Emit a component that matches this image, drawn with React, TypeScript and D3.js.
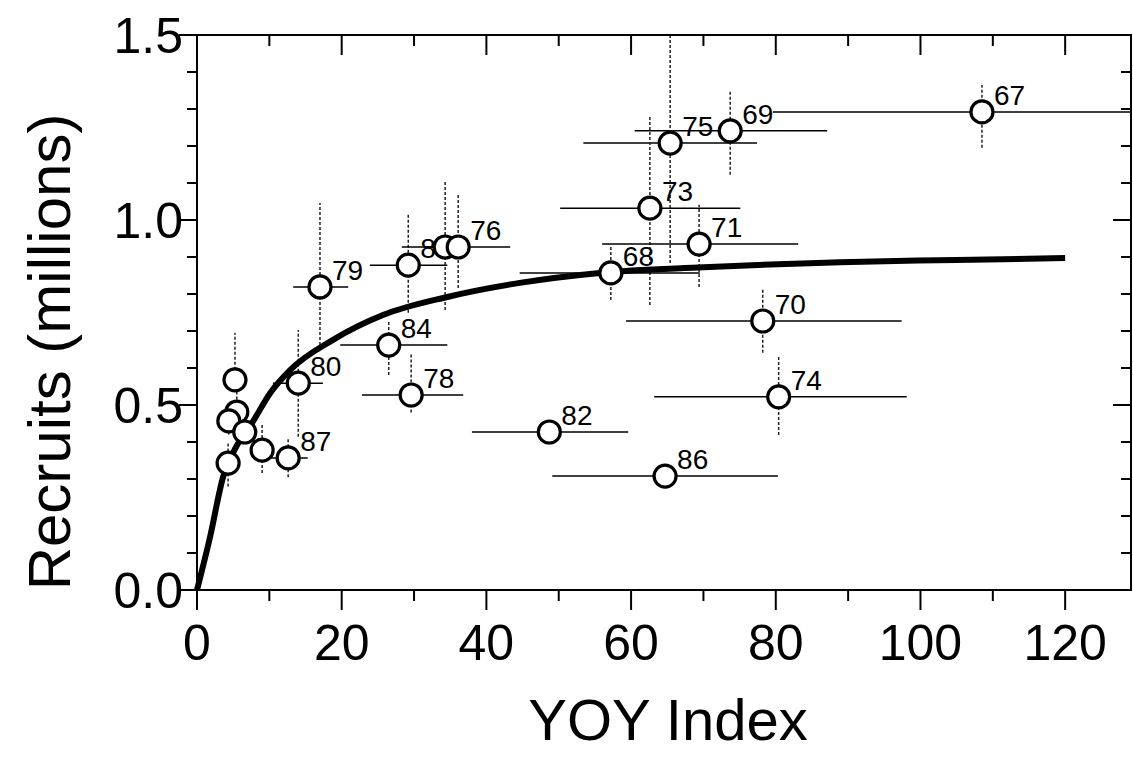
import React from "react";
import * as d3 from "d3";

// year-class labels and values
const labels = ["67", "69", "75", "73", "71", "68", "70", "74", "86", "82", "79", "83", "", "76", "84", "78", "80", "87", "", "", "", "", "", ""];
const yoy = [108.5, 73.7, 65.4, 62.6, 69.4, 57.2, 78.2, 80.4, 64.7, 48.7, 17.0, 29.2, 34.3, 36.1, 26.5, 29.6, 14.0, 12.6, 9.0, 4.3, 5.25, 5.5, 4.4, 6.6];
const recruits = [1.292, 1.241, 1.208, 1.032, 0.935, 0.857, 0.727, 0.522, 0.308, 0.427, 0.819, 0.878, 0.927, 0.927, 0.662, 0.527, 0.559, 0.357, 0.378, 0.343, 0.568, 0.481, 0.457, 0.427];
const yoyLo = [79.6, 60.5, 53.4, 50.2, 56.0, 44.6, 59.3, 63.2, 49.1, 38.0, 13.3, 23.9, 31.5, 28.3, 19.8, 22.8, 10.5, 9.9, 7.5, 3.5, 4.8, 5.0, 3.9, 6.0];
const yoyHi = [131, 87.1, 77.4, 75.1, 83.1, 69.5, 97.4, 98.1, 80.3, 59.6, 20.9, 34.6, 37.0, 43.3, 34.6, 36.8, 17.4, 15.3, 10.5, 5.2, 5.7, 6.0, 4.9, 7.2];
const recLo = [1.195, 1.122, 0.884, 0.77, 0.819, 0.784, 0.641, 0.419, 0.29, 0.41, 0.662, 0.749, 0.757, 0.816, 0.581, 0.48, 0.414, 0.305, 0.316, 0.28, 0.541, 0.42, 0.42, 0.4];
const recHi = [1.365, 1.351, 1.55, 1.284, 1.041, 0.927, 0.816, 0.63, 0.33, 0.44, 1.046, 1.014, 1.103, 1.068, 0.73, 0.64, 0.703, 0.41, 0.451, 0.4, 0.695, 0.56, 0.5, 0.46];

// fitted stock-recruit curve
const curveX = [0, 1.8, 3.6, 5.5, 7.6, 10.1, 12.9, 18.8, 25.7, 34.6, 44.6, 55.7, 70, 88.9, 105, 120];
const curveY = [0, 0.143, 0.305, 0.39, 0.451, 0.532, 0.595, 0.676, 0.743, 0.792, 0.83, 0.857, 0.872, 0.886, 0.892, 0.897];

const xTickLabels = [0, 20, 40, 60, 80, 100, 120];
const yTickLabels = [0, 0.5, 1.0, 1.5];

const W = 1133, H = 773;
const left = 197, right = 1131, top = 35, bottom = 590;

export default function App() {
  const x = d3.scaleLinear().domain([0, 129.1]).range([left, right]);
  const y = d3.scaleLinear().domain([0, 1.5]).range([bottom, top]);

  const xMinor = d3.range(0, 130, 10);
  const yMinor = d3.range(0, 1.501, 0.1);

  const line = d3
    .line<number>()
    .x((d) => x(curveX[d]))
    .y((d) => y(curveY[d]))
    .curve(d3.curveMonotoneX);

  const idx = d3.range(labels.length);
  const font = "Arial, 'Liberation Sans', sans-serif";

  return (
    <svg width={W} height={H} style={{ position: "absolute", left: 0, top: 0, background: "#fff" }}>
      <defs>
        <clipPath id="plot">
          <rect x={left} y={top} width={right - left} height={bottom - top} />
        </clipPath>
      </defs>

      {/* error bars */}
      <g clipPath="url(#plot)">
        {idx.map((i) => (
          <g key={"e" + i}>
            <line x1={x(yoyLo[i])} x2={x(yoyHi[i])} y1={y(recruits[i])} y2={y(recruits[i])} stroke="#000" strokeWidth={1.5} />
            <line x1={x(yoy[i])} x2={x(yoy[i])} y1={y(recLo[i])} y2={y(recHi[i])} stroke="#222" strokeWidth={1.5} strokeDasharray="3,2" />
          </g>
        ))}
      </g>

      {/* fitted curve */}
      <path d={line(d3.range(curveX.length)) || ""} fill="none" stroke="#000" strokeWidth={6} />

      {/* point labels */}
      {idx.map((i) => (
        <text key={"l" + i} x={x(yoy[i]) + 12} y={y(recruits[i]) - 7} fontSize={28} fontFamily={font} fill="#000">
          {labels[i]}
        </text>
      ))}

      {/* points */}
      {idx.map((i) => (
        <circle key={"p" + i} cx={x(yoy[i])} cy={y(recruits[i])} r={11} fill="#fff" stroke="#000" strokeWidth={3.2} />
      ))}

      {/* frame */}
      <rect x={left} y={top} width={right - left} height={bottom - top} fill="none" stroke="#000" strokeWidth={2} />

      {/* x ticks: bottom outward, top inward */}
      {xMinor.map((v) => {
        const major = v % 20 === 0;
        const len = major ? 20 : 11;
        return (
          <g key={"xt" + v}>
            <line x1={x(v)} x2={x(v)} y1={bottom} y2={bottom + len} stroke="#000" strokeWidth={2} />
            <line x1={x(v)} x2={x(v)} y1={top} y2={top + len} stroke="#000" strokeWidth={2} />
          </g>
        );
      })}

      {/* y ticks: left outward, right inward */}
      {yMinor.map((v, k) => {
        const major = k % 5 === 0;
        const len = major ? 18 : 10;
        return (
          <g key={"yt" + k}>
            <line x1={left - len} x2={left} y1={y(v)} y2={y(v)} stroke="#000" strokeWidth={2} />
            <line x1={right - len} x2={right} y1={y(v)} y2={y(v)} stroke="#000" strokeWidth={2} />
          </g>
        );
      })}

      {xTickLabels.map((v) => (
        <text key={"xl" + v} x={x(v)} y={660} textAnchor="middle" fontSize={50} fontFamily={font}>
          {v}
        </text>
      ))}
      {yTickLabels.map((v) => (
        <text key={"yl" + v} x={183} y={y(v) + 18} textAnchor="end" fontSize={50} fontFamily={font}>
          {v.toFixed(1)}
        </text>
      ))}

      <text x={668} y={740} textAnchor="middle" fontSize={58} fontFamily={font}>
        YOY Index
      </text>
      <text transform={`translate(70,352) rotate(-90)`} textAnchor="middle" fontSize={60} fontFamily={font}>
        Recruits (millions)
      </text>
    </svg>
  );
}
